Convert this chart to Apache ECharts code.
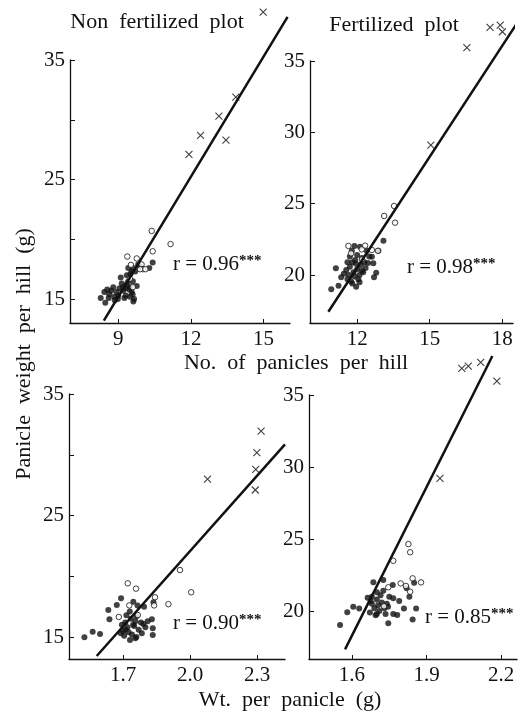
<!DOCTYPE html>
<html>
<head>
<meta charset="utf-8">
<script src="https://cdn.jsdelivr.net/npm/echarts@6/dist/echarts.min.js"></script>
<style>html,body{margin:0;padding:0;background:#fff}#c{width:527px;height:713px}</style>
</head>
<body>
<div id="c"></div>
<script>
// ---- Data ----
// Top-left: No. of panicles per hill vs panicle weight per hill, non fertilized plot
const tlFilled = [[8.27,15.1],[8.46,14.7],[8.42,15.6],[8.54,15.8],[8.62,15.4],[8.7,15.7],[8.79,16.0],[8.83,15.2],[8.93,15.6],[8.98,15.0],[9.05,15.9],[9.1,16.8],[9.14,16.3],[9.2,15.7],[9.25,15.1],[9.31,15.3],[9.34,16.2],[9.4,16.45],[9.45,15.8],[9.48,15.2],[9.55,15.6],[9.59,15.4],[9.62,14.8],[9.5,16.0],[9.76,16.1],[9.55,17.3],[9.41,17.6],[9.62,17.6],[9.5,17.1],[9.7,17.3],[9.82,17.9],[9.9,17.7],[10.28,17.6],[10.42,18.06],[9.35,17.0],[9.2,16.0],[8.85,14.9],[9.0,15.3],[9.65,15.0],[9.3,15.9],[8.6,15.1],[9.6,16.5]];
const tlOpen = [[10.38,20.7],[11.16,19.6],[10.42,19.0],[9.37,18.56],[9.76,18.4],[9.52,17.86],[9.96,17.9],[10.02,17.5],[9.9,17.5],[10.12,17.5],[9.48,16.7],[9.6,16.0]];
const tlCross = [[11.92,27.1],[12.40,28.7],[13.16,30.3],[13.45,28.3],[13.86,31.9],[14.99,39.0]];
const tlLine = [[8.4,13.2],[16.0,38.6]];
// Top-right: fertilized plot
const trFilled = [[10.93,19.0],[11.23,19.25],[11.12,20.47],[11.34,19.84],[11.45,20.1],[11.55,20.35],[11.6,19.7],[11.65,20.0],[11.7,20.58],[11.75,19.55],[11.8,20.9],[11.85,20.2],[11.9,19.9],[11.92,21.05],[11.96,19.18],[12.0,20.4],[12.05,19.7],[11.89,22.04],[11.78,21.7],[12.12,21.99],[12.1,20.0],[12.15,20.7],[12.2,21.2],[12.25,20.2],[12.3,20.9],[12.35,20.5],[12.4,21.7],[12.45,20.85],[12.0,21.4],[11.7,21.3],[11.6,20.9],[12.61,21.29],[12.67,20.82],[12.79,20.16],[12.7,19.84],[12.88,21.71],[13.09,22.41],[12.5,21.3],[11.95,20.8],[12.1,19.5],[11.8,19.4],[12.2,20.3]];
const trOpen = [[13.53,24.84],[13.12,24.14],[13.57,23.67],[11.64,22.04],[12.33,22.06],[12.19,21.8],[12.61,21.76],[11.75,21.52],[12.86,21.7],[12.2,21.1]];
const trCross = [[15.05,29.11],[16.54,35.93],[17.50,37.36],[17.92,37.52],[18.01,37.05]];
const trLine = [[10.81,17.43],[18.61,37.64]];
// Bottom-left: Wt. per panicle vs panicle weight per hill, non fertilized
const blFilled = [[1.527,14.98],[1.564,15.44],[1.597,15.25],[1.634,17.22],[1.639,16.46],[1.672,17.63],[1.691,18.18],[1.746,17.9],[1.765,17.6],[1.794,17.5],[1.836,17.86],[1.829,16.46],[1.833,15.72],[1.833,15.17],[1.791,16.07],[1.784,15.31],[1.731,14.75],[1.70,15.5],[1.71,16.2],[1.72,15.8],[1.735,16.5],[1.74,15.2],[1.75,15.9],[1.755,16.3],[1.76,15.0],[1.77,15.6],[1.705,15.1],[1.715,16.8],[1.725,15.4],[1.745,16.0],[1.755,14.9],[1.78,16.2],[1.80,15.8],[1.695,16.0],[1.73,17.1],[1.712,15.6],[1.76,16.7],[1.69,15.3],[1.81,16.3]];
const blOpen = [[1.721,19.42],[1.758,18.98],[1.955,20.51],[2.005,18.68],[1.843,18.27],[1.839,17.6],[1.903,17.7],[1.728,17.6],[1.681,16.65],[1.766,16.81]];
const blCross = [[2.078,28.0],[2.292,27.1],[2.294,28.8],[2.299,30.17],[2.318,31.95]];
const blLine = [[1.582,13.44],[2.425,30.86]];
// Bottom-right: fertilized
const brFilled = [[1.552,19.03],[1.581,19.91],[1.605,20.3],[1.629,20.18],[1.663,20.93],[1.672,19.9],[1.68,20.5],[1.686,22.0],[1.69,20.2],[1.695,19.7],[1.70,20.8],[1.705,20.4],[1.71,20.0],[1.715,21.1],[1.72,20.6],[1.726,22.15],[1.726,21.41],[1.73,20.2],[1.735,19.8],[1.74,20.5],[1.746,19.15],[1.75,21.0],[1.764,21.81],[1.766,20.88],[1.766,19.79],[1.782,19.72],[1.79,20.7],[1.809,20.18],[1.82,21.58],[1.831,20.99],[1.85,21.97],[1.844,19.42],[1.858,20.18],[1.70,21.3],[1.675,20.7],[1.70,19.8],[1.745,20.3],[1.68,21.0]];
const brOpen = [[1.827,24.65],[1.834,24.08],[1.766,23.49],[1.844,22.27],[1.878,21.99],[1.796,21.92],[1.817,21.74],[1.746,21.65],[1.834,21.34],[1.729,20.33]];
const brCross = [[1.954,29.21],[2.042,36.85],[2.068,37.01],[2.118,37.27],[2.183,35.97]];
const brLine = [[1.572,17.34],[2.165,37.71]];

const xTicksTop = [[9,12,15],[12,15,18]];
const xTicksBottom = [[1.7,2.0,2.3],[1.6,1.9,2.2]];
const yTickMarks = [15,20,25,30,35];
const yLabelsLeft = [15,25,35];
const yLabelsRight = [20,25,30,35];
const rLabels = ['0.96','0.98','0.90','0.85'];
const titles = ['Non  fertilized  plot','Fertilized  plot'];
const xTitleTop = 'No.  of  panicles  per  hill';
const xTitleBottom = 'Wt.  per  panicle  (g)';
const yTitle = 'Panicle  weight  per  hill  (g)';

// ---- Chart ----
const FONT = '"Liberation Serif", "DejaVu Serif", serif';
const INK = '#111';
const chart = echarts.init(document.getElementById('c'), null, {renderer:'canvas'});

const grids = [
  {left:70, top:60, width:220, height:263},
  {left:310, top:61, width:203, height:262},
  {left:69, top:394, width:216, height:265},
  {left:309, top:395, width:208, height:264}
];
const xRanges = [[7,16.1],[10.05,18.45],[1.458,2.425],[1.427,2.264]];
const yRanges = [[13,35],[16.64,35],[13.19,35],[16.67,35]];
const xTickSets = [xTicksTop[0], xTicksTop[1], xTicksBottom[0], xTicksBottom[1]];
const yLabelSets = [yLabelsLeft, yLabelsRight, yLabelsLeft, yLabelsRight];

function xAx(i){
  return {type:'value', gridIndex:i, min:xRanges[i][0], max:xRanges[i][1],
    axisLine:{show:true, onZero:false, lineStyle:{color:INK, width:1.3}},
    axisTick:{show:true, inside:true, length:4, customValues:xTickSets[i], lineStyle:{color:INK}},
    axisLabel:{show:true, customValues:xTickSets[i], color:INK, fontSize:21, fontFamily:FONT, margin:6,
      formatter: v => (i>=2 ? v.toFixed(1) : String(v))},
    splitLine:{show:false}};
}
function yAx(i){
  return {type:'value', gridIndex:i, min:yRanges[i][0], max:yRanges[i][1],
    axisLine:{show:true, onZero:false, lineStyle:{color:INK, width:1.3}},
    axisTick:{show:true, inside:true, length:5, customValues:yTickMarks, lineStyle:{color:INK}},
    axisLabel:{show:true, customValues:yLabelSets[i], color:INK, fontSize:21, fontFamily:FONT, margin:5},
    splitLine:{show:false}};
}

const panels = [
  [tlFilled, tlOpen, tlCross, tlLine],
  [trFilled, trOpen, trCross, trLine],
  [blFilled, blOpen, blCross, blLine],
  [brFilled, brOpen, brCross, brLine]
];
const series = [];
panels.forEach((p, i) => {
  series.push({type:'scatter', xAxisIndex:i, yAxisIndex:i, data:p[0], symbol:'circle', symbolSize:6,
    itemStyle:{color:INK}, clip:false, silent:true, animation:false});
  series.push({type:'scatter', xAxisIndex:i, yAxisIndex:i, data:p[1], symbol:'circle', symbolSize:5.5,
    itemStyle:{color:'#fff', borderColor:INK, borderWidth:1}, clip:false, silent:true, animation:false});
  series.push({type:'scatter', xAxisIndex:i, yAxisIndex:i, data:p[2], symbol:'path://M0,0L10,10M10,0L0,10', symbolSize:7,
    itemStyle:{color:'none', borderColor:INK, borderWidth:1.1}, clip:false, silent:true, animation:false});
  series.push({type:'line', xAxisIndex:i, yAxisIndex:i, data:p[3], symbol:'none',
    lineStyle:{color:INK, width:2.5}, clip:false, silent:true, animation:false, z:3});
});

function txt(x, y, text, size, extra){
  return Object.assign({type:'text', x:x, y:y, silent:true,
    style:{text:text, font:size+'px '+FONT, fill:INK, align:'center', verticalAlign:'middle'}}, extra||{});
}
function rTxt(x, y, val){
  return {type:'text', x:x, y:y, silent:true,
    style:{text:'{a|r = '+val+'}{s|***}', align:'left', verticalAlign:'middle', fill:INK,
      rich:{a:{font:'21px '+FONT, fill:INK, verticalAlign:'bottom'}, s:{font:'bold 15px '+FONT, fill:INK, verticalAlign:'top'}}}};
}
const graphic = [
  txt(157, 22, titles[0], 22),
  txt(394, 25, titles[1], 22),
  txt(296, 363, xTitleTop, 22),
  txt(290, 700, xTitleBottom, 22),
  Object.assign(txt(24, 354, yTitle, 22), {rotation: Math.PI/2}),
  rTxt(173, 264, rLabels[0]),
  rTxt(407, 267, rLabels[1]),
  rTxt(173, 623, rLabels[2]),
  rTxt(425, 617, rLabels[3])
];

chart.setOption({
  backgroundColor:'#fff',
  animation:false,
  grid: grids.map(g => Object.assign({containLabel:false}, g)),
  xAxis: [0,1,2,3].map(xAx),
  yAxis: [0,1,2,3].map(yAx),
  series: series,
  graphic: graphic
});
</script>
</body>
</html>
